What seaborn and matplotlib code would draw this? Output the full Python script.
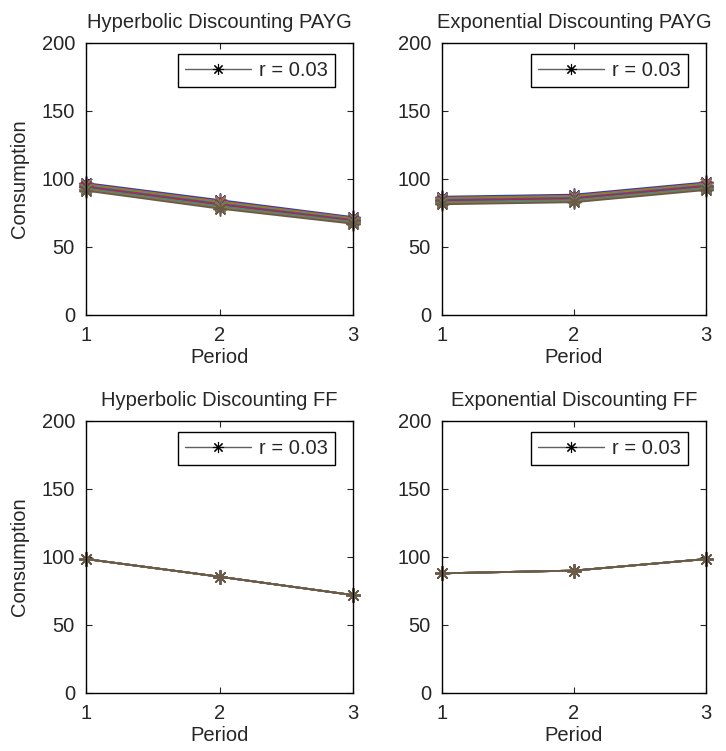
import pandas as pd
import seaborn as sns
import matplotlib.pyplot as plt
from matplotlib.lines import Line2D

# ---------------- data ----------------
periods = [1, 2, 3]

# PAYG: one line per series, values at period 1, 2, 3
hyp_payg = [
    [97.0, 84.5, 72.0],
    [96.2, 83.6, 71.3],
    [95.4, 82.7, 70.6],
    [94.6, 81.8, 69.9],
    [93.8, 80.9, 69.2],
    [93.0, 80.0, 68.5],
    [92.2, 79.1, 67.8],
    [91.4, 78.2, 67.1],
]
exp_payg = [
    [87.0, 88.5, 97.5],
    [86.2, 87.7, 96.7],
    [85.4, 86.9, 95.9],
    [84.6, 86.1, 95.1],
    [83.8, 85.3, 94.3],
    [83.0, 84.5, 93.5],
    [82.2, 83.7, 92.7],
    [81.4, 82.9, 91.9],
]
# FF: all series coincide
hyp_ff = [[98.5, 85.5, 72.0]] * 8
exp_ff = [[88.0, 90.0, 98.5]] * 8

titles = ["Hyperbolic Discounting PAYG", "Exponential Discounting PAYG",
          "Hyperbolic Discounting FF", "Exponential Discounting FF"]
legend_label = "r = 0.03"

line_colors = ["#2a3fb0", "#c0602a", "#5a9a3a", "#7a3a9a",
               "#b02a2a", "#3a8a9a", "#8a7a3a", "#6a5a4a"]

# ---------------- style ----------------
sns.set_style("ticks")
plt.rcParams['font.family'] = ['Liberation Sans', 'DejaVu Sans']
FS = 14.5
STAR = (8, 2, 0)


def to_long(series):
    rows = []
    for i, vals in enumerate(series):
        for p, v in zip(periods, vals):
            rows.append({"Period": p, "Consumption": v, "series": i})
    return pd.DataFrame(rows)


fig = plt.figure(figsize=(7.26, 7.51), dpi=100)
W, H = 726, 751
boxes = [(86, 43, 353, 315), (442, 43, 706, 315),
         (86, 421, 353, 693), (442, 421, 706, 693)]
datasets = [hyp_payg, exp_payg, hyp_ff, exp_ff]

for k, (box, data, title) in enumerate(zip(boxes, datasets, titles)):
    x0, y0, x1, y1 = box
    ax = fig.add_axes([x0 / W, 1 - y1 / H, (x1 - x0) / W, (y1 - y0) / H])
    df = to_long(data)
    sns.lineplot(data=df, x="Period", y="Consumption", hue="series",
                 palette=line_colors, marker=STAR, markersize=10,
                 linewidth=1.3, legend=False, ax=ax, estimator=None)
    # asterisk markers are drawn by their edges only
    for ln in ax.lines:
        ln.set_markeredgecolor(ln.get_color())
        ln.set_markeredgewidth(1.1)
        ln.set_clip_on(False)
    ax.set_xlim(1, 3)
    ax.set_ylim(0, 200)
    ax.set_xticks([1, 2, 3])
    ax.set_yticks([0, 50, 100, 150, 200])
    ax.tick_params(direction="in", top=True, right=True, length=4,
                   width=0.8, labelsize=FS, pad=8)
    for s in ax.spines.values():
        s.set_visible(True)
        s.set_linewidth(1.0)
        s.set_color("black")
    ax.set_title(title, fontsize=FS, pad=11)
    ax.set_xlabel("Period", fontsize=FS, labelpad=2)
    if k % 2 == 0:
        ax.set_ylabel("Consumption", fontsize=FS, labelpad=9)
    else:
        ax.set_ylabel("")
    handle = Line2D([], [], color="#606060", linewidth=1.0, marker=STAR,
                    markersize=8, markeredgecolor="black", markeredgewidth=0.8)
    leg = ax.legend([handle], [legend_label], loc="upper right",
                    bbox_to_anchor=(0.933, 0.96), borderaxespad=0,
                    fancybox=False, framealpha=1, edgecolor="black",
                    fontsize=FS, handlelength=3.3, handletextpad=0.4,
                    borderpad=0.35)
    leg.get_frame().set_linewidth(1.0)

fig.savefig("out.png", dpi=100)
